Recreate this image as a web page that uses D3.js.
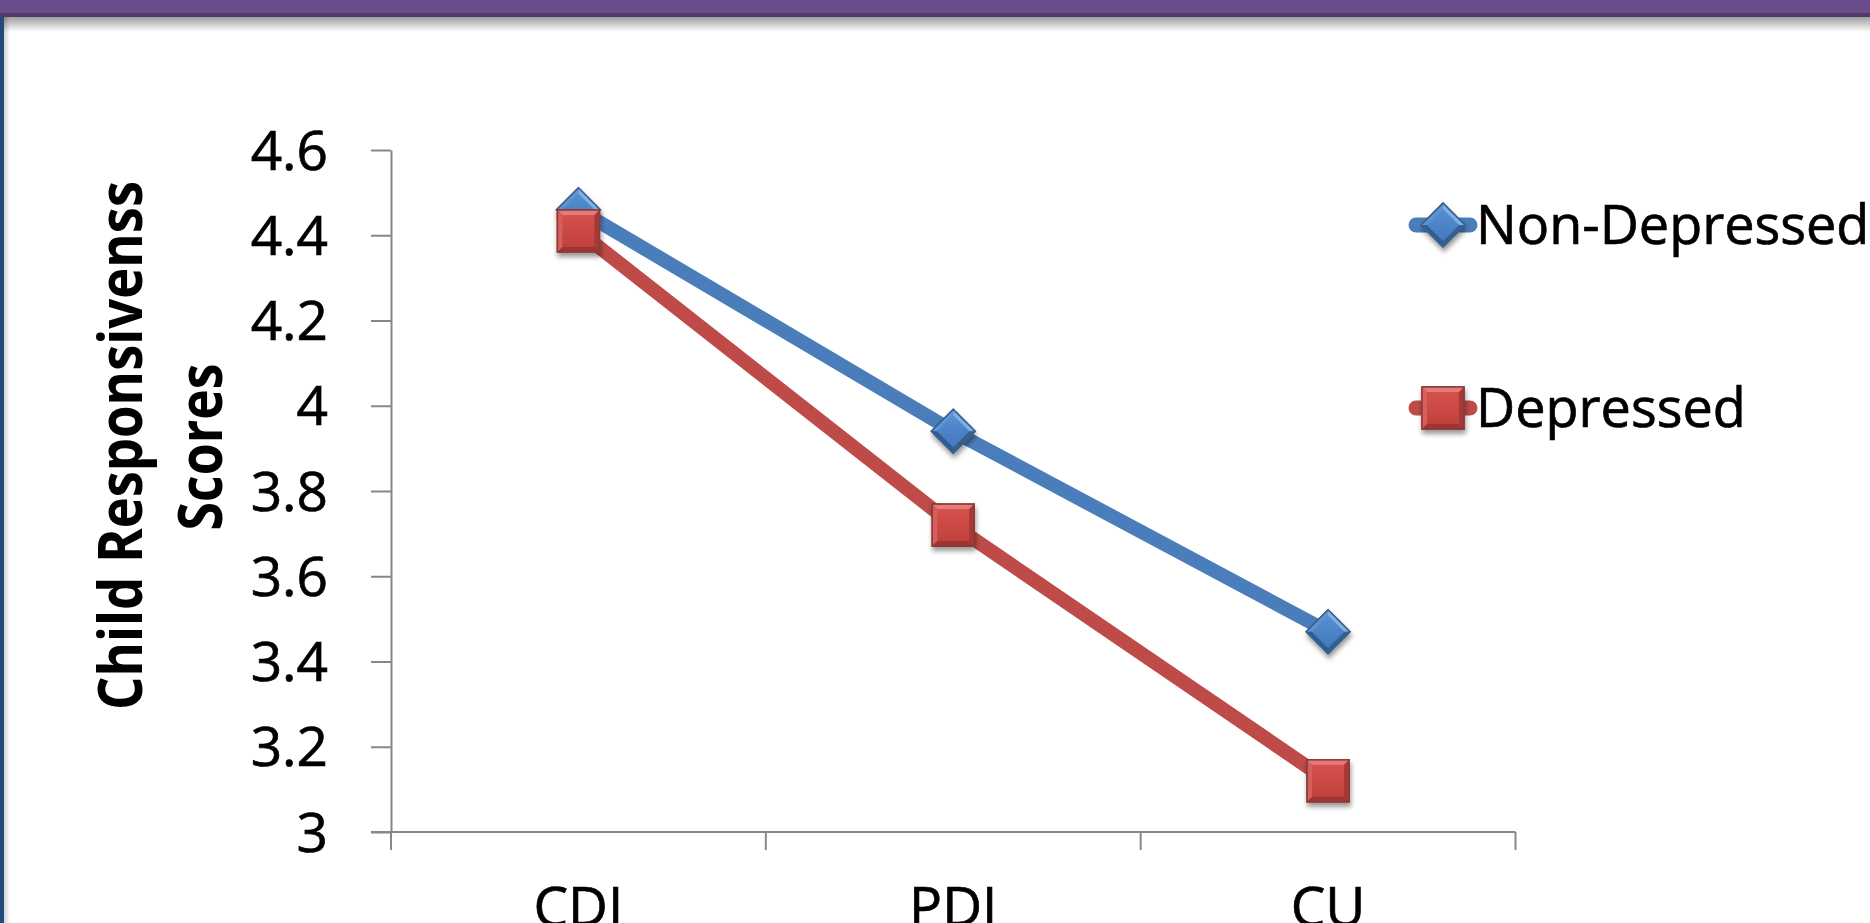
<!DOCTYPE html>
<html>
<head>
<meta charset="utf-8">
<script src="https://cdn.jsdelivr.net/npm/d3@7"></script>
<style>
  html, body { margin: 0; padding: 0; background: #fff; overflow: hidden; }
  svg { display: block; }
  text { font-family: "Open Sans", "Noto Sans", sans-serif; }
</style>
</head>
<body>
<svg id="chart" width="1870" height="923"></svg>
<script>
// ---- data ----
const categories = ["CDI", "PDI", "CU"];
const seriesNames = ["Non-Depressed", "Depressed"];
const nonDepressed = [4.46, 3.94, 3.47];
const depressed = [4.41, 3.72, 3.12];
const yTicks = [3, 3.2, 3.4, 3.6, 3.8, 4, 4.2, 4.4, 4.6];
const yTickLabels = ["3", "3.2", "3.4", "3.6", "3.8", "4", "4.2", "4.4", "4.6"];
const yTitleLines = ["Child Responsivenss", "Scores"];

// ---- setup ----
const W = 1870, H = 923;
const svg = d3.select("#chart");
const defs = svg.append("defs");

// page decoration: purple banner, shadow, left blue border
const shadowGrad = defs.append("linearGradient").attr("id", "topShadow")
  .attr("x1", 0).attr("y1", 0).attr("x2", 0).attr("y2", 1);
shadowGrad.append("stop").attr("offset", 0).attr("stop-color", "#000").attr("stop-opacity", 0.38);
shadowGrad.append("stop").attr("offset", 1).attr("stop-color", "#000").attr("stop-opacity", 0);
const leftShadow = defs.append("linearGradient").attr("id", "leftShadow")
  .attr("x1", 0).attr("y1", 0).attr("x2", 1).attr("y2", 0);
leftShadow.append("stop").attr("offset", 0).attr("stop-color", "#000").attr("stop-opacity", 0.18);
leftShadow.append("stop").attr("offset", 1).attr("stop-color", "#000").attr("stop-opacity", 0);

svg.append("rect").attr("x", 0).attr("y", 17).attr("width", W).attr("height", 15).attr("fill", "url(#topShadow)");
svg.append("rect").attr("x", 4).attr("y", 17).attr("width", 6).attr("height", H - 17).attr("fill", "url(#leftShadow)");
svg.append("rect").attr("x", 0).attr("y", 0).attr("width", W).attr("height", 14).attr("fill", "#6A4C8C");
svg.append("rect").attr("x", 0).attr("y", 13).attr("width", W).attr("height", 4).attr("fill", "#4F3A69");
svg.append("rect").attr("x", 0).attr("y", 17).attr("width", 4).attr("height", H - 17).attr("fill", "#224B7C");

// drop shadow filter for markers
const f = defs.append("filter").attr("id", "mshadow").attr("x", "-50%").attr("y", "-50%").attr("width", "200%").attr("height", "200%");
f.append("feDropShadow").attr("dx", 1).attr("dy", 4).attr("stdDeviation", 2.5)
  .attr("flood-color", "#000").attr("flood-opacity", 0.4);

// face gradients
function faceGrad(id, c1, c2, diag) {
  const g = defs.append("linearGradient").attr("id", id)
    .attr("x1", 0).attr("y1", 0).attr("x2", diag ? 1 : 0).attr("y2", 1);
  g.append("stop").attr("offset", 0).attr("stop-color", c1);
  g.append("stop").attr("offset", 1).attr("stop-color", c2);
}
faceGrad("redFace", "#D9534F", "#BC3F3B", false);
faceGrad("blueFace", "#5B93D8", "#3F74B6", true);

const styles = [
  { name: seriesNames[0], values: nonDepressed, line: "#4A7EBB", shape: "diamond",
    face: "url(#blueFace)", light: "#7FB0EA", mid: "#5E93D2", dark: "#2F5D95", darker: "#345E8F", stroke: "#3A5F8C" },
  { name: seriesNames[1], values: depressed, line: "#BE4B48", shape: "square",
    face: "url(#redFace)", light: "#E47B78", mid: "#D55F5B", dark: "#9E3431", darker: "#A63936", stroke: "#8E3A37" }
];

function drawMarker(g, st) {
  const grp = g.append("g").attr("filter", "url(#mshadow)");
  let h, b;
  let inner;
  if (st.shape === "square") {
    h = 21; b = 5;
    inner = grp.append("g");
  } else {
    h = 15.5; b = 4;
    inner = grp.append("g").attr("transform", "rotate(45)");
  }
  inner.append("rect").attr("x", -h).attr("y", -h).attr("width", 2 * h).attr("height", 2 * h)
    .attr("fill", st.face).attr("stroke", st.stroke).attr("stroke-width", 1.5);
  const p = (pts) => pts.map(d => d.join(",")).join(" ");
  inner.append("polygon").attr("points", p([[-h, -h], [h, -h], [h - b, -h + b], [-h + b, -h + b]])).attr("fill", st.light);
  inner.append("polygon").attr("points", p([[-h, -h], [-h + b, -h + b], [-h + b, h - b], [-h, h]])).attr("fill", st.mid);
  inner.append("polygon").attr("points", p([[h, -h], [h, h], [h - b, h - b], [h - b, -h + b]])).attr("fill", st.darker);
  inner.append("polygon").attr("points", p([[-h, h], [h, h], [h - b, h - b], [-h + b, h - b]])).attr("fill", st.dark);
  inner.append("rect").attr("x", -h).attr("y", -h).attr("width", 2 * h).attr("height", 2 * h)
    .attr("fill", "none").attr("stroke", st.stroke).attr("stroke-width", 1.5);
}

// ---- scales ----
const x = d3.scaleBand().domain(categories).range([391, 1515.5]).padding(0);
const y = d3.scaleLinear().domain([3, 4.6]).range([832, 150]);
const axisColor = "#878787";

// y axis
const yAxis = d3.axisLeft(y).tickValues(yTicks).tickSize(20).tickSizeOuter(0).tickPadding(43)
  .tickFormat((d, i) => yTickLabels[i]);
const gy = svg.append("g").attr("transform", `translate(${x.range()[0]},0)`).call(yAxis);
gy.select(".domain").attr("stroke", axisColor).attr("stroke-width", 2);
gy.selectAll(".tick line").attr("stroke", axisColor).attr("stroke-width", 2);
gy.selectAll(".tick text").attr("font-size", 55).attr("fill", "#000")
  .attr("stroke", "#000").attr("stroke-width", 0.7)
  .attr("font-family", "'Open Sans', sans-serif").attr("dy", 19);

// x axis: line + ticks at band boundaries
const xEdges = categories.map(c => x(c)).concat([x.range()[1]]);
svg.append("line").attr("x1", x.range()[0] - 20).attr("x2", x.range()[1])
  .attr("y1", y(3)).attr("y2", y(3)).attr("stroke", axisColor).attr("stroke-width", 2);
svg.append("g").selectAll("line").data(xEdges).join("line")
  .attr("x1", d => d).attr("x2", d => d).attr("y1", y(3)).attr("y2", y(3) + 18)
  .attr("stroke", axisColor).attr("stroke-width", 2);
svg.append("g").selectAll("text").data(categories).join("text")
  .attr("x", d => x(d) + x.bandwidth() / 2).attr("y", y(3) + 94)
  .attr("text-anchor", "middle").attr("font-size", 55).attr("fill", "#000")
  .attr("stroke", "#000").attr("stroke-width", 0.7).text(d => d);

// y title
const titleX = [142, 222], titleLen = [529, 167], titleCY = [445.5, 447];
yTitleLines.forEach((t, i) => {
  svg.append("text").attr("transform", `translate(${titleX[i]},${titleCY[i]}) rotate(-90)`)
    .attr("text-anchor", "middle").attr("font-size", 61).attr("font-weight", 700)
    .attr("textLength", titleLen[i]).attr("lengthAdjust", "spacingAndGlyphs")
    .attr("fill", "#000").text(t);
});

// ---- series ----
const line = d3.line().x((d, i) => x(categories[i]) + x.bandwidth() / 2).y(d => y(d));
styles.forEach(st => {
  svg.append("path").datum(st.values).attr("d", line).attr("fill", "none")
    .attr("stroke", st.line).attr("stroke-width", 14).attr("stroke-linejoin", "round");
  st.values.forEach((v, i) => {
    const g = svg.append("g").attr("transform", `translate(${x(categories[i]) + x.bandwidth() / 2},${y(v)})`);
    drawMarker(g, st);
  });
});

// ---- legend ----
const legendY = [225, 408];
styles.forEach((st, i) => {
  const g = svg.append("g").attr("transform", `translate(1443,${legendY[i]})`);
  g.append("line").attr("x1", -27).attr("x2", 27).attr("y1", 0).attr("y2", 0)
    .attr("stroke", st.line).attr("stroke-width", 15).attr("stroke-linecap", "round");
  drawMarker(g, st);
  g.append("text").attr("x", 33).attr("y", 19).attr("font-size", 54).attr("fill", "#000")
    .attr("stroke", "#000").attr("stroke-width", 0.7).text(st.name);
});
</script>
</body>
</html>
